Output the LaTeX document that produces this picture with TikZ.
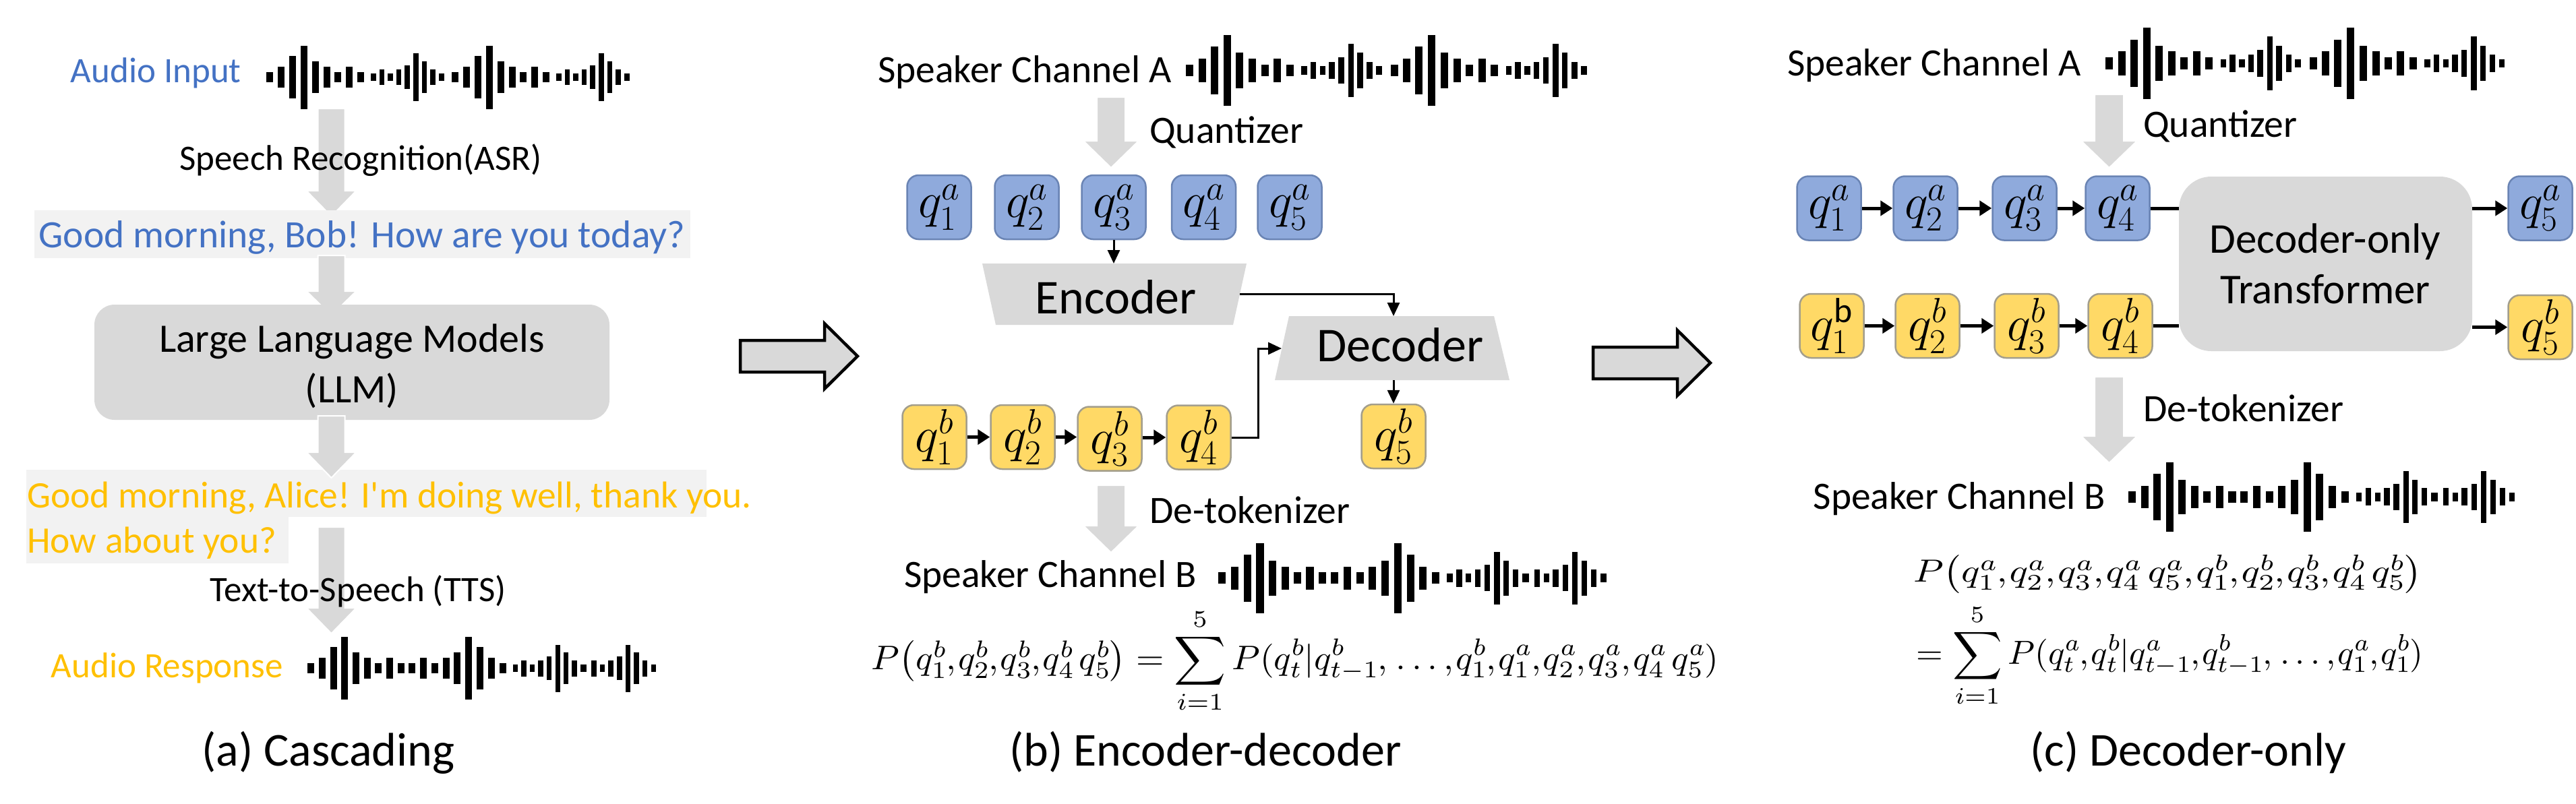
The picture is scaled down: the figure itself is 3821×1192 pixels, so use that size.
\documentclass[tikz,border=0pt]{standalone}
\usepackage{fix-cm}
\usepackage{graphicx}
\usepackage{fontspec}
\setmainfont{Carlito}[Ligatures=TeXOff]
\usetikzlibrary{arrows.meta}
\definecolor{txtblue}{HTML}{4472C4}
\definecolor{txtgold}{HTML}{FFC000}
\definecolor{lightbox}{HTML}{F2F2F2}
\definecolor{graybox}{HTML}{D9D9D9}
\definecolor{qblue}{HTML}{8FAADC}
\definecolor{qblueb}{HTML}{6A84B4}
\definecolor{qyel}{HTML}{FFD966}
\definecolor{qyelb}{HTML}{A39E8C}
\newcommand\fsz[1]{\fontsize{#1}{#1}\selectfont}
\newcommand\cmm{\mathord{,}\mkern1mu}
\newcommand\garrow[6]{\path[graysh] (#1-#5,#2) -- (#1+#5,#2) -- (#1+#5,#3) -- (#1+#6,#3) -- (#1,#4) -- (#1-#6,#3) -- (#1-#5,#3) -- cycle;}
\newcommand\waveA[4]{\begin{scope}[shift={(#1,#2)},xscale=#3,yscale=#4]
\foreach \off in {0,275}{\foreach \bx/\bh/\ww in {5/15.7/10,21.9/31.3/10,38.3/63/10,55.5/94/10,72.4/47.3/10,89.5/31.7/10,106/15.7/10,122.9/31.7/10,139.7/15.7/10,159/11.3/7.7,171.3/23/7.7,183.9/11.3/7.7,196.2/23/7.7,208.8/35/7.7,221.8/70.7/7.7,234.1/47/7.7,247/23/7.7,259.7/11.3/7.7}{\fill (\off+\bx-\ww/2,-\bh/2) rectangle (\off+\bx+\ww/2,\bh/2);}}
\end{scope}}
\newcommand\waveB[4]{\begin{scope}[shift={(#1,#2)},xscale=#3,yscale=#4]
\foreach \bx/\bh/\ww in {5/15.3/10,22.2/30.7/10,38.8/62.7/10,55.7/93.3/10,72.3/46.7/10,89.2/30.7/10,105.7/15.3/10,122.3/30.7/10,139.2/15.3/10,155.4/15.3/10,172/30.7/10,188.9/15.3/10,205.8/30.7/10,222.7/46.7/10,239.6/93.3/10,256.5/62.7/10,273.1/30.7/10,290/15.3/10,308.9/11.3/7.5,321.4/23.7/7.5,333.9/11.3/7.5,346.4/23.7/7.5,358.9/35.3/7.5,371.8/70/7.5,384/47/7.5,396.5/23.7/7.5,410/11.3/9,425.2/23.7/7.5,437.7/11.3/7.5,450.2/23.7/7.5,463.1/35.3/7.5,475.6/70/7.5,488.4/47/7.5,500.9/23.7/7.5,513.8/11.3/7.5}{\fill (\bx-\ww/2,-\bh/2) rectangle (\bx+\ww/2,\bh/2);}
\end{scope}}
\tikzset{
 lblA/.style={inner sep=0pt,font=\fsz{53}},
 lblB/.style={inner sep=0pt,font=\fsz{57.5}},
 capt/.style={inner sep=0pt,font=\fsz{70}},
 bigt/.style={inner sep=0pt,font=\fsz{60}},
 codec/.style={inner sep=0pt,font=\fsz{72}},
 formula/.style={inner sep=0pt,anchor=north west},
 graysh/.style={fill=graybox,draw=white,line width=2pt},
 qa/.style={draw=qblueb,fill=qblue,line width=2.5pt,rounded corners=17pt,minimum width=95pt,minimum height=95pt,inner sep=0pt,font=\fsz{74}},
 qb/.style={qa,draw=qyelb,fill=qyel},
 thinarr/.style={line width=3pt,-{Triangle[length=20pt,width=18pt]}},
 thickarr/.style={line width=5pt,-{Triangle[length=18pt,width=22pt]}},
 hollow/.style={fill=graybox,draw=black,line width=4.5pt,line join=miter},
}
\begin{document}
\begin{tikzpicture}[x=1pt,y=-1pt]
\useasboundingbox (0,0) rectangle (3821,1192);
\fill[white] (0,0) rectangle (3821,1192);
% ================= (a) Cascading =================
\node[lblA,anchor=base east,text=txtblue] (ain) at (358,122.5) {Audio Input};
\waveA{395.3}{114.5}{1}{1}
\garrow{491.5}{161}{283}{321}{20}{37}
\node[fill=lightbox,minimum width=973pt,minimum height=71pt,inner sep=0pt] (bobbox) at (537.5,347.5) {};
\node[inner sep=0pt,font=\fsz{57.5},text=txtblue,anchor=base] (bob) at (537,367) {Good morning, Bob! How are you today?};
\garrow{491.5}{379}{432}{468}{20}{37}
\node[fill=graybox,rounded corners=30pt,minimum width=764pt,minimum height=171pt,inner sep=0pt] (llm) at (522,537.5) {};
\node[bigt,anchor=base] (llm1) at (522,522) {Large Language Models};
\node[bigt,anchor=base] (llm2) at (522,597) {(LLM)};
\path[fill=lightbox] (39,697) rectangle (1048,767);
\path[fill=lightbox] (39,766) rectangle (428,836);
\node[inner sep=0pt,font=\fsz{55.5},text=txtgold,anchor=base west] (alice1) at (40,753) {Good morning, Alice! I'm doing well, thank you.};
\node[inner sep=0pt,font=\fsz{55.5},text=txtgold,anchor=base west] (alice2) at (40,820) {How about you?};
\garrow{491.5}{617}{671}{709}{20}{37}
\garrow{491.5}{782}{902}{940}{20}{37}
\node[lblA,anchor=base] (asr) at (535,252.6) {Speech Recognition(ASR)};
\node[lblA,anchor=base] (tts) at (531,892.6) {Text-to-Speech (TTS)};
\node[lblA,anchor=base east,text=txtgold] (aresp) at (420,1005.8) {Audio Response};
\waveB{455.7}{991.7}{1}{1}
\node[capt,anchor=base] (capa) at (487,1136) {(a) Cascading};
% hollow arrows
\path[hollow] (1098,505) -- (1223,505) -- (1223,480) -- (1272,528.5) -- (1223,577) -- (1223,552) -- (1098,552) -- cycle;
\path[hollow] (2363,515) -- (2488,515) -- (2488,490) -- (2537,538.5) -- (2488,587) -- (2488,562) -- (2363,562) -- cycle;
% ================= (b) Encoder-decoder =================
\node[lblB,anchor=base] (bspkA) at (1520,122.5) {Speaker Channel A};
\waveA{1759}{104.5}{1.104}{1.115}
\garrow{1648}{144}{209}{249}{21}{41}
\node[lblB,anchor=base west] (bquant) at (1705,212) {Quantizer};
\node[qa] (qa1) at (1393,307.5) {$q_1^a$};
\node[qa] (qa2) at (1523,307.5) {$q_2^a$};
\node[qa] (qa3) at (1652,307.5) {$q_3^a$};
\node[qa] (qa4) at (1785.5,307.5) {$q_4^a$};
\node[qa] (qa5) at (1913,307.5) {$q_5^a$};
\path[fill=graybox] (1457,391) -- (1849,391) -- (1829,482) -- (1477,482) -- cycle;
\node[codec,anchor=base] (enc) at (1655,465) {Encoder};
\coordinate (encTop) at (1652,391);
\coordinate (encR) at (1839,436);
\path[fill=graybox] (1912,469) -- (2216,469) -- (2239,564) -- (1891,564) -- cycle;
\node[codec,anchor=base] (dec) at (2077,536) {Decoder};
\coordinate (decTop) at (2067,469);
\coordinate (decL) at (1901,517);
\coordinate (decBot) at (2067,564);
\node[qb] (qb1) at (1386,648.5) {$q_1^b$};
\node[qb] (qb2) at (1517,648.5) {$q_2^b$};
\node[qb] (qb3) at (1646,651) {$q_3^b$};
\node[qb] (qb4) at (1778,649) {$q_4^b$};
\node[qb] (qb5) at (2067,647.5) {$q_5^b$};
\coordinate (elbow) at (1866,649);
\draw[thinarr] (qa3.south) -- (encTop);
\draw[thinarr] (encR) -| (decTop);
\draw[thinarr] (qb4.east) -- (elbow) |- (decL);
\draw[thinarr] (decBot) -- (qb5.north);
\draw[thickarr] (qb1.east) -- (qb1.east -| qb2.west);
\draw[thickarr] (qb2.east) -- (qb2.east -| qb3.west);
\draw[thickarr] (qb3.east |- qb4.west) -- (qb4.west);
\garrow{1648}{720}{780}{820}{21}{41}
\node[lblB,anchor=base west] (bdetok) at (1705,776.7) {De-tokenizer};
\node[lblB,anchor=base] (bspkB) at (1558,871) {Speaker Channel B};
\waveB{1807}{857.7}{1.112}{1.114}
\node[formula] (fb) at (1292,902) {\scriptspace=0pt\resizebox*{1257pt}{156pt}{$P\bigl(q_1^b\cmm q_2^b\cmm q_3^b\cmm q_4^b\,q_5^b\bigr)=\displaystyle\sum_{i=1}^{5}P(q_t^b|q_{t-1}^b\cmm \dots\cmm q_1^b\cmm q_1^a\cmm q_2^a\cmm q_3^a\cmm q_4^a\,q_5^a)$}};
\node[capt,anchor=base] (capb) at (1788,1136) {(b) Encoder-decoder};
% ================= (c) Decoder-only =================
\node[lblB,anchor=base] (cspkA) at (2869,112) {Speaker Channel A};
\waveA{3123}{94}{1.1}{1.12}
\garrow{3128.5}{140}{209}{249}{21.5}{41.5}
\node[lblB,anchor=base west] (cquant) at (3179,203) {Quantizer};
\node[fill=graybox,rounded corners=48pt,minimum width=435pt,minimum height=259pt,inner sep=0pt] (tr) at (3449.5,391.5) {};
\node[inner sep=0pt,font=\fsz{63},anchor=base] (tr1) at (3449,375) {Decoder-only};
\node[inner sep=0pt,font=\fsz{63},anchor=base] (tr2) at (3449,450) {Transformer};
\node[qa] (ca1) at (2713,309) {$q_1^a$};
\node[qa] (ca2) at (2856,309) {$q_2^a$};
\node[qa] (ca3) at (3003,309) {$q_3^a$};
\node[qa] (ca4) at (3141,309) {$q_4^a$};
\node[qa] (ca5) at (3768,309) {$q_5^a$};
\node[qb] (cb1) at (2717,483.5) {$q_1^{\mathrm{b}}$};
\node[qb] (cb2) at (2859,483.5) {$q_2^b$};
\node[qb] (cb3) at (3006,483.5) {$q_3^b$};
\node[qb] (cb4) at (3145,483.5) {$q_4^b$};
\node[qb] (cb5) at (3768,485.5) {$q_5^b$};
\draw[thickarr] (ca1.east) -- (ca2.west);
\draw[thickarr] (ca2.east) -- (ca3.west);
\draw[thickarr] (ca3.east) -- (ca4.west);
\draw[line width=5pt] (ca4.east) -- (ca4.east -| tr.west);
\draw[thickarr] (tr.east |- ca5.west) -- (ca5.west);
\draw[thickarr] (cb1.east) -- (cb2.west);
\draw[thickarr] (cb2.east) -- (cb3.west);
\draw[thickarr] (cb3.east) -- (cb4.west);
\draw[line width=5pt] (cb4.east) -- (cb4.east -| tr.west);
\draw[thickarr] (tr.east |- cb5.west) -- (cb5.west);
\garrow{3128.5}{559}{647}{687}{21.5}{41.5}
\node[lblB,anchor=base west] (cdetok) at (3179,625) {De-tokenizer};
\node[lblB,anchor=base] (cspkB) at (2906.5,755) {Speaker Channel B};
\waveB{3156.7}{737.4}{1.108}{1.10}
\node[formula] (fc1) at (2838,823) {\scriptspace=0pt\resizebox*{754pt}{57pt}{$P\bigl(q_1^a\cmm q_2^a\cmm q_3^a\cmm q_4^a\,q_5^a\cmm q_1^b\cmm q_2^b\cmm q_3^b\cmm q_4^b\,q_5^b\bigr)$}};
\node[formula] (fc2) at (2842,896) {\scriptspace=0pt\resizebox*{752pt}{153pt}{$=\displaystyle\sum_{i=1}^{5}P(q_t^a\cmm q_t^b|q_{t-1}^a\cmm q_{t-1}^b\cmm \dots\cmm q_1^a\cmm q_1^b)$}};
\node[capt,anchor=base] (capc) at (3246,1136) {(c) Decoder-only};
\end{tikzpicture}
\end{document}
